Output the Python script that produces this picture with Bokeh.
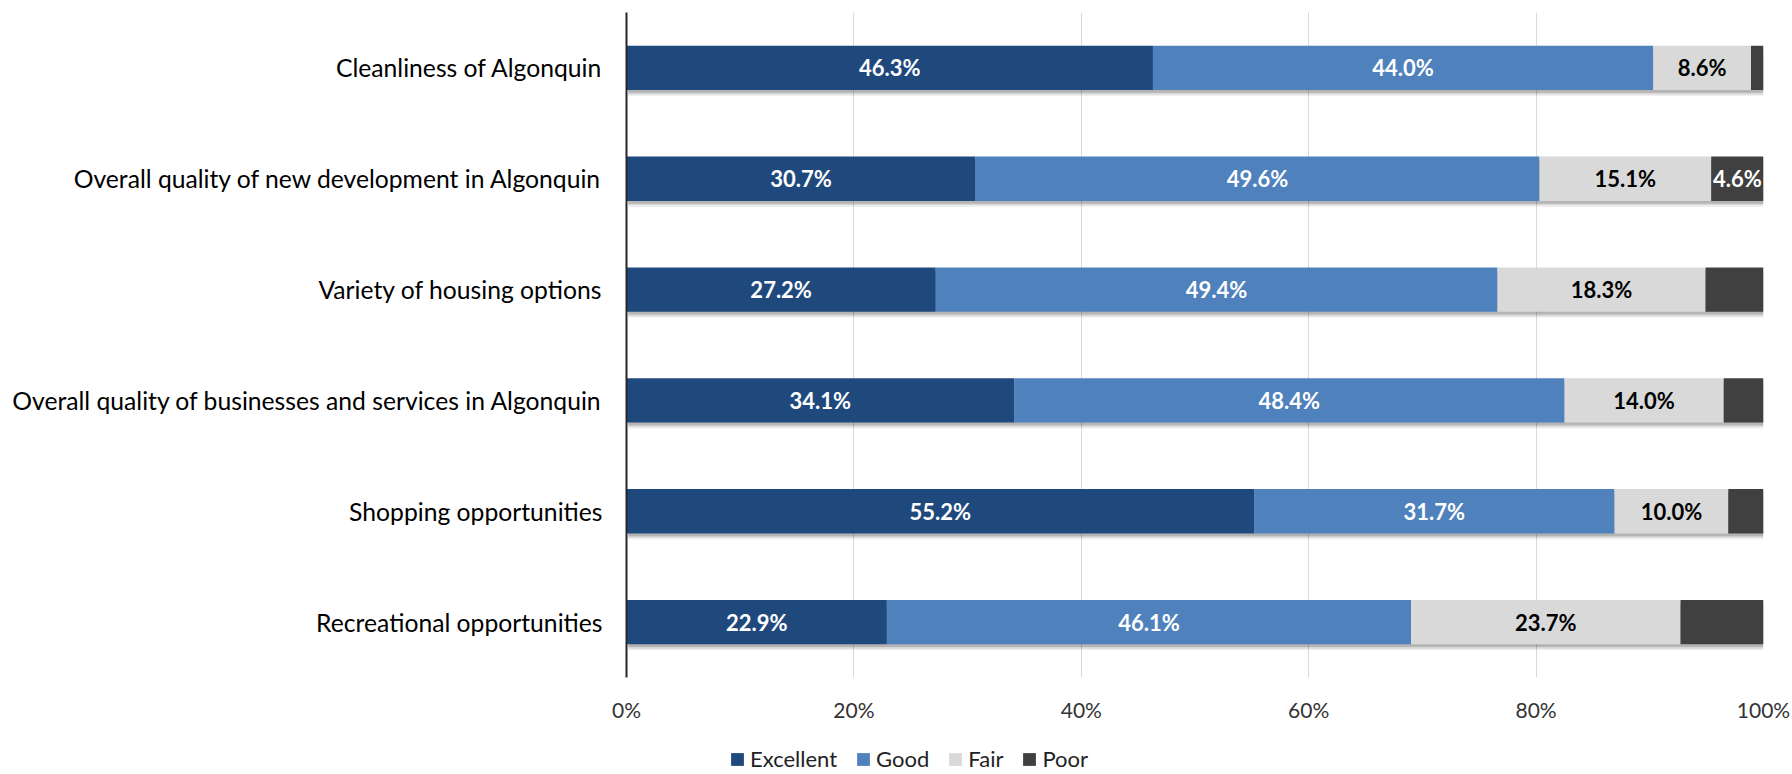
from bokeh.plotting import figure
from bokeh.layouts import column
from bokeh.models import ColumnDataSource, Range1d, FixedTicker, Legend, LegendItem
from bokeh.core.properties import value
from bokeh.embed import file_html
from bokeh.resources import INLINE

# Survey ratings, listed top to bottom as drawn
categories = [
    "Cleanliness of Algonquin",
    "Overall quality of new development in Algonquin",
    "Variety of housing options",
    "Overall quality of businesses and services in Algonquin",
    "Shopping opportunities",
    "Recreational opportunities",
]
excellent = [46.3, 30.7, 27.2, 34.1, 55.2, 22.9]
good = [44.0, 49.6, 49.4, 48.4, 31.7, 46.1]
fair = [8.6, 15.1, 18.3, 14.0, 10.0, 23.7]
poor = [1.1, 4.6, 5.1, 3.5, 3.1, 7.3]
poor_labelled = [False, True, False, False, False, False]

series_names = ["Excellent", "Good", "Fair", "Poor"]
series_colors = ["#1F497D", "#4F81BD", "#D9D9D9", "#404040"]
label_colors = ["white", "white", "black", "white"]

x_ticks = [0, 20, 40, 60, 80, 100]
x_tick_labels = ["0%", "20%", "40%", "60%", "80%", "100%"]

FONT = "Lato"
W = 1792
MAIN_H = 724
LEG_H = 50
LEFT, RIGHT = 626, 29
n = len(categories)
ypos = [n - 1 - i for i in range(n)]
BAR_H = 0.4

p = figure(
    width=W, height=MAIN_H,
    x_range=Range1d(0, 100), y_range=Range1d(-0.5, n - 0.5),
    output_backend="svg", toolbar_location=None,
    min_border_left=LEFT, min_border_right=RIGHT,
    min_border_top=12, min_border_bottom=44,
)
p.outline_line_color = None
p.background_fill_color = "white"
p.border_fill_color = "white"

# soft drop shadow beneath each bar
for off, alpha in [(0.055, 0.06), (0.04, 0.10), (0.025, 0.16)]:
    sh = ColumnDataSource(dict(y=[v - off for v in ypos], left=[0.15] * n, right=[100.25] * n))
    p.hbar(y="y", left="left", right="right", height=BAR_H, source=sh,
           fill_color="black", fill_alpha=alpha, line_color=None)

series = [excellent, good, fair, poor]
cum = [0.0] * n
lx, ly, lt, lc = [], [], [], []
for k, vals in enumerate(series):
    left = cum[:]
    right = [a + b for a, b in zip(cum, vals)]
    src = ColumnDataSource(dict(y=ypos, left=left, right=right))
    p.hbar(y="y", left="left", right="right", height=BAR_H, source=src,
           fill_color=series_colors[k], line_color=None)
    for i in range(n):
        show = poor_labelled[i] if k == 3 else True
        if show:
            lx.append((left[i] + right[i]) / 2)
            ly.append(ypos[i])
            lt.append(f"{vals[i]:.1f}%")
            lc.append(label_colors[k])
    cum = right

lab = ColumnDataSource(dict(x=lx, y=ly, text=lt, color=lc))
p.text(x="x", y="y", text="text", source=lab, text_align="center",
       text_baseline="middle", text_color="color", text_font=value(FONT),
       text_font_style="bold", text_font_size="22px")

# axes
p.xaxis.ticker = FixedTicker(ticks=x_ticks)
p.xaxis.major_label_overrides = {t: s for t, s in zip(x_ticks, x_tick_labels)}
p.xaxis.axis_line_color = None
p.xaxis.major_tick_line_color = None
p.xaxis.major_tick_out = 0
p.xaxis.minor_tick_line_color = None
p.xaxis.minor_tick_out = 0
p.xaxis.major_label_standoff = 19
p.xaxis.major_label_text_font = FONT
p.xaxis.major_label_text_font_size = "21px"
p.xaxis.major_label_text_color = "#333333"

p.yaxis.ticker = FixedTicker(ticks=ypos)
p.yaxis.major_label_overrides = {y: c for y, c in zip(ypos, categories)}
p.yaxis.axis_line_color = "#262626"
p.yaxis.axis_line_width = 2
p.yaxis.major_tick_line_color = None
p.yaxis.major_tick_out = 0
p.yaxis.minor_tick_line_color = None
p.yaxis.minor_tick_out = 0
p.yaxis.major_label_standoff = 24
p.yaxis.major_label_text_font = FONT
p.yaxis.major_label_text_font_size = "24.7px"
p.yaxis.major_label_text_color = "black"

p.xgrid.ticker = FixedTicker(ticks=x_ticks)
p.xgrid.grid_line_color = "#D9D9D9"
p.xgrid.grid_line_width = 1
p.ygrid.grid_line_color = None

# legend strip underneath the chart (frame lines up with the chart's frame)
leg = figure(
    width=W, height=LEG_H, x_range=Range1d(0, 100), y_range=Range1d(0, 1),
    output_backend="svg", toolbar_location=None,
    x_axis_location=None, y_axis_location=None,
    min_border_left=LEFT, min_border_right=RIGHT, min_border_top=0, min_border_bottom=0,
)
leg.outline_line_color = None
leg.grid.grid_line_color = None
items = []
for s, c in zip(series_names, series_colors):
    # a single swatch kept outside the visible range; only its legend entry shows
    r = leg.hbar(y=[-5], left=[0], right=[1], height=0.5, fill_color=c, line_color=None)
    items.append(LegendItem(label=s, renderers=[r]))
legend = Legend(
    items=items, orientation="horizontal", location=(103, 2),
    glyph_width=16, glyph_height=16, label_standoff=5, spacing=18,
    padding=0, margin=0, border_line_color=None, background_fill_alpha=0,
    label_text_font=FONT, label_text_font_size="22px", label_text_color="#222222",
)
leg.add_layout(legend, "center")

layout = column(p, leg, spacing=0)
open("out.html", "w").write(file_html(layout, INLINE))
